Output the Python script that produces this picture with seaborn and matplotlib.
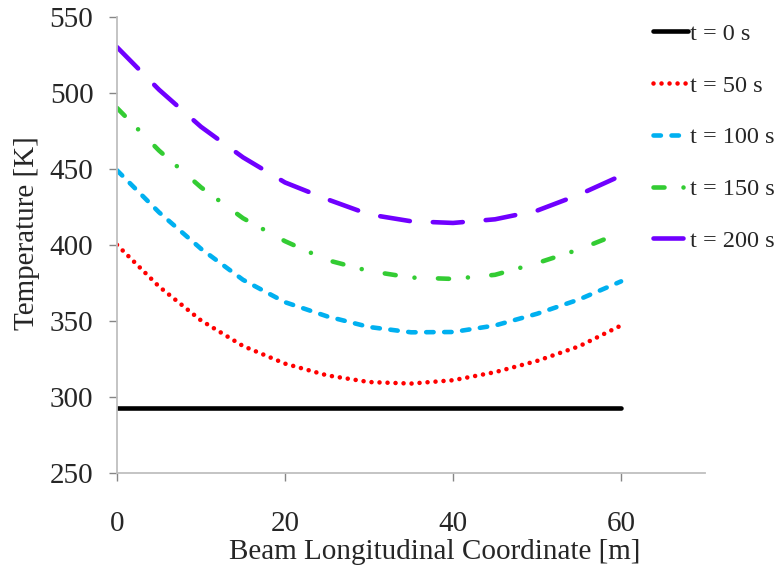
import numpy as np
import pandas as pd
import seaborn as sns
import matplotlib
matplotlib.use('Agg')
import matplotlib.pyplot as plt

# data
coord = [0, 5, 10, 15, 20, 25, 30, 35, 40, 45, 50, 55, 60]
temp_0 = [293, 293, 293, 293, 293, 293, 293, 293, 293, 293, 293, 293, 293]
temp_50 = [400, 372.6, 350.3, 333.5, 321.9, 314.2, 309.8, 308.8, 311, 316.3, 323.7, 333.3, 347]
temp_100 = [449, 421.4, 397.4, 377, 362.3, 353, 346, 342.5, 342.7, 347, 354.7, 364.1, 376]
temp_150 = [490, 462, 437.8, 417.5, 402.4, 390, 382.8, 378.5, 377.6, 380.3, 388, 397, 408]
temp_200 = [530, 502, 477.6, 457.5, 441, 430, 420, 415.5, 414.4, 416.8, 422.5, 433, 445.5]
labels = ['t = 0 s', 't = 50 s', 't = 100 s', 't = 150 s', 't = 200 s']

sns.set_theme(style='white')
plt.rcParams['font.family'] = ['Liberation Serif', 'DejaVu Serif']
plt.rcParams['lines.scale_dashes'] = False

series = [temp_0, temp_50, temp_100, temp_150, temp_200]
colors = ['#000000', '#FF0000', '#00B0F0', '#33CC33', '#7000FF']
px = 0.72  # points per pixel
dashes = [None,
          (0, (0.01, 8 * px)),
          (0, (7.4 * px, 10.6 * px)),
          (0, (11 * px, 19 * px, 0.01, 23.5 * px)),
          (0, (30 * px, 23 * px))]

fig = plt.figure(figsize=(7.8, 5.71), dpi=100)
ax = fig.add_axes([0.15, 0.1716, 0.754, 0.7992])

for vals, col, ds, lab in zip(series, colors, dashes, labels):
    sns.lineplot(x=coord, y=vals, ax=ax, color=col, lw=3.3, label=lab)
    line = ax.lines[-1]
    line.set_solid_capstyle('round')
    line.set_dash_capstyle('round')
    if ds is not None:
        line.set_linestyle(ds)

ax.set_xlim(0, 70)
ax.set_ylim(250, 550)
ax.set_xticks([0, 20, 40, 60])
ax.set_yticks(range(250, 551, 50))

for s in ['top', 'right']:
    ax.spines[s].set_visible(False)
for s in ['left', 'bottom']:
    ax.spines[s].set_color('#BFBFBF')
    ax.spines[s].set_linewidth(1.3)

ax.tick_params(axis='both', which='major', labelsize=21, color='#868686',
               length=6, width=1, direction='out')
ax.tick_params(axis='x', pad=21, bottom=True)
ax.tick_params(axis='y', pad=11, left=True)

ax.set_xlabel('Beam Longitudinal Coordinate [m]', fontsize=21)
ax.set_ylabel('Temperature [K]', fontsize=21)
ax.xaxis.set_label_coords(0.541, -0.173)
ax.yaxis.label.set_va('center')
ax.xaxis.label.set_va('center')
ax.yaxis.set_label_coords(-0.153, 0.526)

ax.get_legend().remove()
handles, labs = ax.get_legend_handles_labels()
fig.legend(handles, labs, loc='upper left', bbox_to_anchor=(653 / 780, 0.960),
           frameon=False, fontsize=17.5, handlelength=1.44, handletextpad=0.08,
           labelspacing=1.225, borderpad=0, borderaxespad=0)

fig.savefig('out.png', dpi=100)
